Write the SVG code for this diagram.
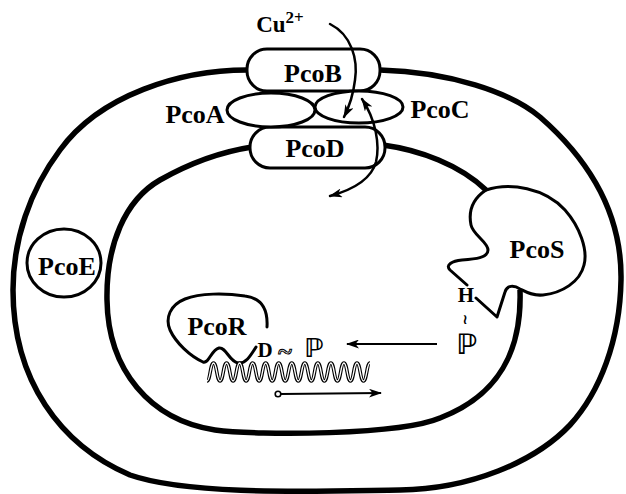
<svg xmlns="http://www.w3.org/2000/svg" width="626" height="494" viewBox="0 0 626 494">
  <style>
    .mem{fill:none;stroke:#000;stroke-width:5.5;stroke-linecap:butt}
    .prot{fill:#fff;stroke:#000;stroke-width:3}
    .outline{fill:none;stroke:#000;stroke-width:3;stroke-linejoin:round;stroke-linecap:round}
    .lbl{font-family:"Liberation Serif","Times New Roman",serif;font-weight:bold;font-size:26px;text-anchor:middle;fill:#000}
    .small{font-family:"Liberation Serif","Times New Roman",serif;font-weight:bold;text-anchor:middle;fill:#000}
    .dbl{font-family:"DejaVu Serif","DejaVu Sans",serif;font-weight:bold;text-anchor:middle;fill:#000}
    .hollow{fill:#fff;stroke:#000;stroke-width:1}
    .conn{fill:none;stroke:#000;stroke-width:2.5;stroke-linecap:round}
    .thin{fill:none;stroke:#000;stroke-width:1.8}
  </style>
  <defs>
    <marker id="head" viewBox="0 0 13 9" refX="12" refY="4.5" markerWidth="13" markerHeight="9" markerUnits="userSpaceOnUse" orient="auto-start-reverse">
      <path d="M0,0 L13,4.5 L0,9 L3.5,4.5 Z" fill="#000"/>
    </marker>
    <path id="wave" d="M207,381 C210.26,381 210.26,363 213.52,363 S216.78,381 220.04,381 S223.3,363 226.56,363 S229.82,381 233.08,381 S236.34,363 239.6,363 S242.86,381 246.12,381 S249.38,363 252.64,363 S255.9,381 259.16,381 S262.42,363 265.68,363 S268.94,381 272.2,381 S275.46,363 278.72,363 S281.98,381 285.24,381 S288.5,363 291.76,363 S295.02,381 298.28,381 S301.54,363 304.8,363 S308.06,381 311.32,381 S314.58,363 317.84,363 S321.1,381 324.36,381 S327.62,363 330.88,363 S334.14,381 337.4,381 S340.66,363 343.92,363 S347.18,381 350.44,381 S353.7,363 356.96,363 S360.22,381 363.48,381 S366.74,363 370,363"/>
  </defs>
  <rect width="626" height="494" fill="#fff"/>

  <!-- cell envelope -->
  <g id="outer-membrane">
    <path class="mem" d="M247,70 C180,70 100,95 60,150 C30,190 13,240 13,290 C13,380 60,445 130,475 C190,496 320,491 400,490 C470,489 535,462 570,425 C600,392 620,340 621,280 C622,220 595,165 540,117 C510,92 450,72 380,70"/>
  </g>
  <g id="inner-membrane">
    <path class="mem" d="M520,290 C522,350 500,395 440,418 C400,435 260,436 215,430 C150,420 108,370 107,300 C106,245 125,200 160,180 C190,163 220,152 252,147"/>
    <path class="mem" d="M383,145 C420,150 460,165 486,190"/>
  </g>

  <!-- membrane proteins -->
  <g id="PcoB">
    <rect class="prot" x="247" y="49" width="133" height="42" rx="20"/>
    <text class="lbl" x="313" y="82">PcoB</text>
  </g>
  <g id="PcoD">
    <rect class="prot" x="250" y="127" width="135" height="41" rx="20"/>
    <text class="lbl" x="315" y="157">PcoD</text>
  </g>
  <g id="PcoA">
    <ellipse class="prot" cx="271" cy="110" rx="44" ry="17"/>
    <text class="lbl" x="195" y="123">PcoA</text>
  </g>
  <g id="PcoC">
    <ellipse class="prot" cx="359" cy="107" rx="44" ry="16"/>
    <text class="lbl" x="440" y="118">PcoC</text>
  </g>
  <g id="PcoE">
    <ellipse class="prot" cx="64" cy="263" rx="37" ry="34"/>
    <text class="lbl" x="67" y="275">PcoE</text>
  </g>

  <!-- sensor kinase -->
  <g id="PcoS">
    <path class="outline" d="M486,190 C510,182 545,188 565,210 C580,227 588,250 584,265 C580,282 562,293 543,295 C533,296 526,292 520,289 C514,285 507,285 505,292 L497,317 L476,298"/>
    <path class="outline" d="M486,190 C474,198 468,210 471,225 C473,235 488,242 488,250 C488,258 475,259 462,260 C452,261 445,265 450,270 L467,285"/>
    <text class="lbl" x="537" y="258">PcoS</text>
    <text class="small" x="466" y="302" font-size="21">H</text>
    <text class="dbl" x="465" y="323.5" font-size="14" font-weight="normal">≀</text>
    <text class="dbl" x="467" y="354" font-size="28">ℙ</text>
  </g>

  <!-- response regulator -->
  <g id="PcoR">
    <path class="outline" d="M267,327 C268,310 262,298 245,296 C225,293 200,293 185,299 C170,305 165,318 170,330 C176,343 190,356 203,362 C209,364 211,350 219,348 C226,347 229,361 238,363 C246,364 251,355 256,347"/>
    <text class="lbl" x="217" y="335">PcoR</text>
    <text class="small" x="265" y="357" font-size="21">D</text>
    <text class="small hollow" x="285" y="360" font-size="26">~</text>
    <text class="dbl" x="314" y="357" font-size="26">ℙ</text>
  </g>

  <!-- operator DNA, drawn as a hollow double strand -->
  <g id="DNA">
    <use href="#wave" fill="none" stroke="#000" stroke-width="3.6"/>
    <use href="#wave" fill="none" stroke="#fff" stroke-width="1.4"/>
  </g>

  <!-- copper ion label -->
  <g id="Cu">
    <text class="small" x="280" y="32" font-size="23" text-anchor="start">Cu<tspan font-size="17" dy="-9">2+</tspan></text>
  </g>

  <!-- connectors -->
  <g id="connectors">
    <path class="conn" marker-end="url(#head)" d="M330,24 C352,35 358,60 355,80 C353,97 349,107 344,117"/>
    <path class="conn" marker-start="url(#head)" marker-end="url(#head)" d="M362,99 C376,120 380,145 376,162 C371,180 352,190 330,196"/>
    <path class="thin" marker-end="url(#head)" d="M437,344 L347,344"/>
    <circle cx="278" cy="394" r="2.8" fill="#fff" stroke="#000" stroke-width="1.6"/>
    <path class="thin" marker-end="url(#head)" d="M281,394 L381,393"/>
  </g>
</svg>
